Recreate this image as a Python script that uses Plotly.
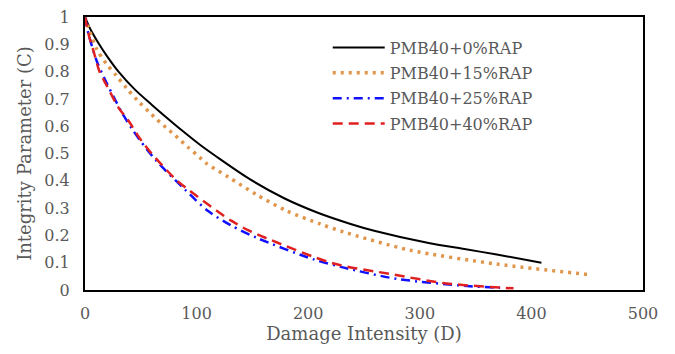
import plotly.graph_objects as go

d_0 = [0, 4.5, 12, 20, 30, 45, 60, 73, 87, 103, 118, 148, 178, 208, 238, 260, 309, 340, 369, 409]
c_0 = [1.0, 0.958, 0.905, 0.855, 0.80, 0.733, 0.678, 0.632, 0.584, 0.532, 0.488, 0.405, 0.337, 0.284, 0.242, 0.216, 0.171, 0.150, 0.130, 0.100]

d_15 = [0, 3, 10.5, 19.4, 28.4, 37.3, 47.8, 58, 64, 74.6, 80.6, 92.6, 103, 109, 128.4, 153.8, 180.7, 210.6, 231.5, 291, 369, 452.5]
c_15 = [1.0, 0.963, 0.882, 0.827, 0.784, 0.739, 0.691, 0.65, 0.626, 0.588, 0.567, 0.522, 0.485, 0.463, 0.414, 0.349, 0.29, 0.242, 0.213, 0.146, 0.095, 0.056]

d_25 = [0, 3, 10.5, 18, 27, 33, 42, 49, 64, 90, 110, 131, 155, 205, 231, 279, 345, 372]
c_25 = [1.0, 0.94, 0.839, 0.77, 0.697, 0.65, 0.591, 0.55, 0.473, 0.366, 0.29, 0.236, 0.189, 0.112, 0.083, 0.041, 0.014, 0.008]

d_40 = [0, 3, 8, 13, 20, 30, 39, 49, 58, 82, 93, 118, 131, 146, 163, 222, 273, 324, 384]
c_40 = [1.0, 0.94, 0.87, 0.80, 0.745, 0.668, 0.62, 0.556, 0.508, 0.402, 0.366, 0.29, 0.254, 0.219, 0.189, 0.098, 0.059, 0.024, 0.006]

names = ["PMB40+0%RAP", "PMB40+15%RAP", "PMB40+25%RAP", "PMB40+40%RAP"]

FONT = "DejaVu Serif"
GRAY = "#595959"

fig = go.Figure()
styles = [
    dict(color="black", width=2, dash="solid"),
    dict(color="#E0954A", width=3.5, dash="3px,5px"),
    dict(color="#1010FF", width=2.5, dash="9px,5px,2px,5px"),
    dict(color="#E02020", width=2.5, dash="10px,6px"),
]
for i, (d, c) in enumerate([(d_0, c_0), (d_15, c_15), (d_25, c_25), (d_40, c_40)]):
    fig.add_trace(go.Scatter(x=d, y=c, mode="lines", name=names[i],
                             line=dict(shape="spline", smoothing=0.8, **styles[i]),
                             legendgroup=str(i)))

fig.update_layout(
    width=675, height=354,
    margin=dict(l=85, r=32, t=8, b=64),
    paper_bgcolor="white", plot_bgcolor="white",
    font=dict(family=FONT, color=GRAY, size=16),
    showlegend=True,
    legend=dict(x=0.435, y=0.95, xanchor="left", yanchor="top",
                bgcolor="rgba(0,0,0,0)", font=dict(size=16, color=GRAY),
                itemwidth=52, tracegroupgap=1.5, traceorder="grouped"),
    xaxis=dict(range=[0, 500], dtick=100, showgrid=False, zeroline=False,
               showline=True, linecolor="black", linewidth=2, mirror=True,
               ticks="", ticklabelstandoff=8,
               title=dict(text="Damage Intensity (D)", font=dict(size=18, color=GRAY), standoff=3),
               tickfont=dict(size=16, color=GRAY)),
    yaxis=dict(range=[0, 1], dtick=0.1, showgrid=False, zeroline=False,
               showline=True, linecolor="black", linewidth=2, mirror=True,
               ticks="", ticklabelstandoff=10,
               title=dict(text="Integrity Parameter (C)", font=dict(size=18, color=GRAY), standoff=8),
               tickfont=dict(size=16, color=GRAY)),
)

fig.write_html("out.html")
